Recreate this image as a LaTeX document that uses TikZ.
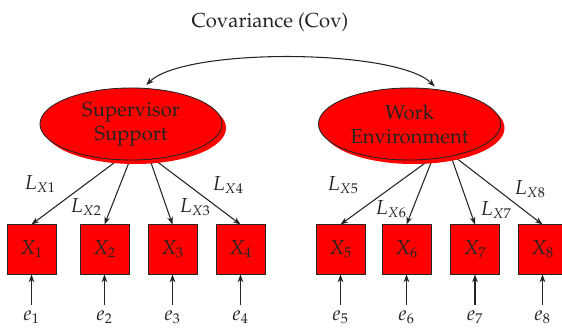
\documentclass[tikz,border=0pt]{standalone}
\usepackage[T1]{fontenc}
\usepackage{mathpazo}
\usepackage{tikz}
\usetikzlibrary{arrows.meta,shapes.geometric,shadows,backgrounds}
\definecolor{semred}{RGB}{255,0,0}
\definecolor{inkgray}{RGB}{35,35,35}

\begin{document}
\begin{tikzpicture}[x=0.025cm, y=0.025cm, >={Stealth[length=5.5pt,width=4pt]},
    every node/.style={font=\fontsize{14.4}{17}\selectfont, text=inkgray},
    latent/.style={ellipse, draw=inkgray, line width=0.6pt, fill=semred,
        minimum width=4.55cm, minimum height=1.8cm, inner sep=0pt, align=center,
        drop shadow={shadow xshift=0.1cm, shadow yshift=-0.1cm, fill=semred, opacity=1}},
    observed/.style={rectangle, draw=inkgray, line width=0.7pt, fill=semred,
        minimum size=1.225cm, inner sep=0pt},
    errlabel/.style={inner sep=0pt, anchor=north},
    link/.style={->, draw=inkgray, line width=0.75pt}]
    \useasboundingbox (0,0) rectangle (562,328);

    % Title
    \node (title) at (270,306) {Covariance (Cov)};

    % Latent variables
    \node[latent] (sup) at (131,204) {Supervisor\\Support};
    \node[latent] (work) at (409.5,204) {Work\\Environment};

    % Covariance arc
    \draw[link, <->, shorten <=0.1cm, shorten >=0.1cm] (sup.71) to[out=45, in=135, looseness=0.5] (work.51);

    % Indicators
    \node[observed] (x1) at (31.5,78.5) {$X_1$};
    \node[observed] (x2) at (104.5,78.5) {$X_2$};
    \node[observed] (x3) at (172.5,78.5) {$X_3$};
    \node[observed] (x4) at (240.5,78.5) {$X_4$};
    \node[observed] (x5) at (340.5,78.5) {$X_5$};
    \node[observed] (x6) at (406.5,78.5) {$X_6$};
    \node[observed] (x7) at (475,78.5) {$X_7$};
    \node[observed] (x8) at (542.5,78.5) {$X_8$};

    % Loadings
    \begin{scope}[on background layer]
        \draw[link] (sup.250) -- (x1.north);
        \draw[link] (sup.268) -- (x2.north);
        \draw[link] (sup.298) -- (x3.north);
        \draw[link] (sup.303.5) -- (x4.north);
        \draw[link] (work.300) -- (x5.north);
        \draw[link] (work.303) -- (x6.north);
        \draw[link] (work.322) -- (x7.north);
        \draw[link] (work.324) -- (x8.north);
    \end{scope}
    \node (lx1) at (40,144) {$L_{X1}$};
    \node (lx2) at (86,121) {$L_{X2}$};
    \node (lx3) at (195,121) {$L_{X3}$};
    \node (lx4) at (228,143) {$L_{X4}$};
    \node (lx5) at (343,143) {$L_{X5}$};
    \node (lx6) at (391,119) {$L_{X6}$};
    \node (lx7) at (496,118) {$L_{X7}$};
    \node (lx8) at (530,139) {$L_{X8}$};

    % Errors
    \node[errlabel] (e1) at (31.5,18) {$e_1$};
    \node[errlabel] (e2) at (104.5,18) {$e_2$};
    \node[errlabel] (e3) at (172.5,18) {$e_3$};
    \node[errlabel] (e4) at (240.5,18) {$e_4$};
    \node[errlabel] (e5) at (340.5,18) {$e_5$};
    \node[errlabel] (e6) at (406.5,18) {$e_6$};
    \node[errlabel] (e7) at (475,18) {$e_7$};
    \node[errlabel] (e8) at (542.5,18) {$e_8$};
    \draw[link, shorten <=0.125cm] (e1.north) -- (x1.south);
    \draw[link, shorten <=0.125cm] (e2.north) -- (x2.south);
    \draw[link, shorten <=0.125cm] (e3.north) -- (x3.south);
    \draw[link, shorten <=0.125cm] (e4.north) -- (x4.south);
    \draw[link, shorten <=0.125cm] (e5.north) -- (x5.south);
    \draw[link, shorten <=0.125cm] (e6.north) -- (x6.south);
    \draw[link, shorten <=0.125cm] (e7.north) -- (x7.south);
    \draw[link, shorten <=0.125cm] (e8.north) -- (x8.south);
\end{tikzpicture}
\end{document}
